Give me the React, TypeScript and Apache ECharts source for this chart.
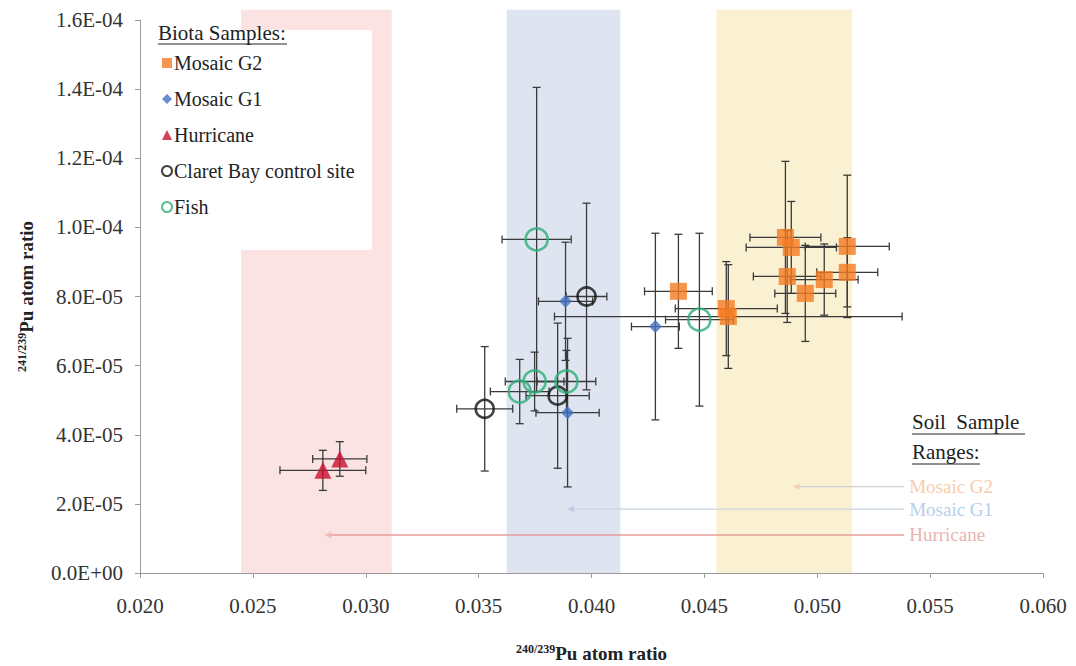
import React, { useEffect, useRef } from "react";
import * as echarts from "echarts";

// ---------- data ----------
const xTickMin = 0.02;
const xTickMax = 0.06;
const xTickStep = 0.005;
const yTickMin = 0;
const yTickMax = 1.6e-4;
const yTickStep = 2e-5;

// Mosaic G2 (orange squares)
const g2X = [0.04385, 0.04597, 0.04606, 0.04859, 0.04885, 0.04867, 0.04947, 0.05031, 0.05133, 0.05133];
const g2Y = [8.15e-5, 7.65e-5, 7.42e-5, 9.71e-5, 9.42e-5, 8.58e-5, 8.09e-5, 8.49e-5, 9.45e-5, 8.7e-5];
const g2XErr = [0.0015, 0.00226, 0.0077, 0.00157, 0.002, 0.0015, 0.00135, 0.0015, 0.00186, 0.00135];
const g2YErr = [1.65e-5, 1.36e-5, 1.5e-5, 2.2e-5, 1.33e-5, 1.33e-5, 1.39e-5, 1.03e-5, 2.06e-5, 1.0e-5];

// Mosaic G1 (blue diamonds)
const g1X = [0.03885, 0.03894, 0.04283];
const g1Y = [7.86e-5, 4.64e-5, 7.13e-5];
const g1XErr = [0.0012, 0.0014, 0.00106];
const g1YErr = [1.71e-5, 2.15e-5, 2.7e-5];

// Hurricane (red triangles)
const huX = [0.0281, 0.02885];
const huY = [2.97e-5, 3.3e-5];
const huXErr = [0.0019, 0.0012];
const huYErr = [0.58e-5, 0.5e-5];

// Claret Bay control site (black open circles)
const cbX = [0.03527, 0.0385, 0.03978];
const cbY = [4.75e-5, 5.13e-5, 8.0e-5];
const cbXErr = [0.00124, 0.0014, 0.0009];
const cbYErr = [1.8e-5, 2.1e-5, 2.7e-5];

// Fish (green open circles)
const fiX = [0.03757, 0.03682, 0.03748, 0.03889, 0.04478];
const fiY = [9.65e-5, 5.25e-5, 5.54e-5, 5.54e-5, 7.33e-5];
const fiXErr = [0.00153, 0.0013, 0.0013, 0.0013, 0.0015];
const fiYErr = [4.4e-5, 0.93e-5, 0.85e-5, 0.9e-5, 2.5e-5];

// Soil sample ranges (shaded bands)
const bandNames = ["Hurricane", "Mosaic G1", "Mosaic G2"];
const bandMin = [0.02447, 0.03624, 0.04553];
const bandMax = [0.03115, 0.04128, 0.05155];
const bandTop = 1.63e-4;

// Soil sample range pointers
const soilNames = ["Mosaic G2", "Mosaic G1", "Hurricane"];
const soilMeanX = [0.04907, 0.03907, 0.02832];
const soilLevelY = [2.5e-5, 1.85e-5, 1.1e-5];
const soilLabelX = 0.05385;

// ---------- styles ----------
const FONT = "Liberation Serif";
const bandColors = ["#FCE3E3", "#DEE5F1", "#FAF0D2"];
const soilLineColors = ["#cfcfcf", "#c9d3e0", "#e79d9b"];
const soilTextColors = ["#F5BE93", "#9FC1E6", "#E59E9C"];
const soilMarkColors = ["#f3cdb0", "#b7c7e0", "#efb5b3"];

const zip = (xs: number[], ys: number[]) => xs.map((x, i) => [x, ys[i]]);
const zip4 = (xs: number[], ys: number[], ex: number[], ey: number[]) =>
  xs.map((x, i) => [x, ys[i], ex[i], ey[i]]);

const yFmt = (v: number) => {
  if (Math.abs(v) < 1e-12) return "0.0E+00";
  const s = v.toExponential(1);
  const m = s.match(/^(-?[\d.]+)e([+-])(\d+)$/);
  if (!m) return s;
  const exp = m[3].length < 2 ? "0" + m[3] : m[3];
  return `${m[1]}E${m[2]}${exp}`;
};

export default function App() {
  const ref = useRef<HTMLDivElement>(null);

  useEffect(() => {
    if (!ref.current) return;
    const chart = echarts.init(ref.current, undefined, { renderer: "svg" });

    const errData = [
      ...zip4(g2X, g2Y, g2XErr, g2YErr),
      ...zip4(g1X, g1Y, g1XErr, g1YErr),
      ...zip4(huX, huY, huXErr, huYErr),
      ...zip4(cbX, cbY, cbXErr, cbYErr),
      ...zip4(fiX, fiY, fiXErr, fiYErr),
    ];

    const bandData = bandNames.map((n, i) => ({ name: n, value: [bandMin[i], bandMax[i], i] }));

    const option: any = {
      animation: false,
      backgroundColor: "#ffffff",
      textStyle: { fontFamily: FONT },
      grid: {
        left: 140,
        top: 20,
        width: 903,
        height: 553,
        containLabel: false,
        outerBoundsMode: "none",
      },
      xAxis: {
        type: "value",
        min: xTickMin,
        max: xTickMax,
        interval: xTickStep,
        name: "{sup|240/239}{b|Pu atom ratio}",
        nameLocation: "middle",
        nameGap: 70,
        nameTextStyle: {
          rich: {
            sup: { fontFamily: FONT, fontSize: 12, fontWeight: "bold", color: "#222", padding: [0, 0, 9, 0] },
            b: { fontFamily: FONT, fontSize: 19, fontWeight: "bold", color: "#222" },
          },
        },
        axisLine: { show: true, lineStyle: { color: "#9a9a9a", width: 1 } },
        axisTick: { show: true, length: 5, lineStyle: { color: "#9a9a9a" } },
        splitLine: { show: false },
        axisLabel: {
          formatter: (v: number) => v.toFixed(3),
          fontFamily: FONT,
          fontSize: 21,
          color: "#333",
          margin: 22,
        },
      },
      yAxis: {
        type: "value",
        min: yTickMin,
        max: yTickMax,
        interval: yTickStep,
        name: "{sup|241/239}{b|Pu atom ratio}",
        nameLocation: "middle",
        nameGap: 103,
        nameTextStyle: {
          rich: {
            sup: { fontFamily: FONT, fontSize: 12, fontWeight: "bold", color: "#222", padding: [0, 0, 9, 0] },
            b: { fontFamily: FONT, fontSize: 19, fontWeight: "bold", color: "#222" },
          },
        },
        axisLine: { show: true, lineStyle: { color: "#9a9a9a", width: 1 } },
        axisTick: { show: true, length: 5, lineStyle: { color: "#9a9a9a" } },
        splitLine: { show: false },
        axisLabel: {
          formatter: yFmt,
          fontFamily: FONT,
          fontSize: 21,
          color: "#333",
          margin: 17,
        },
      },
      legend: {
        data: ["Mosaic G2", "Mosaic G1", "Hurricane", "Claret Bay control site", "Fish"],
        orient: "vertical",
        left: 156,
        top: 48,
        itemGap: 16,
        itemWidth: 10,
        itemHeight: 10,
        z: 10,
        textStyle: { fontFamily: FONT, fontSize: 20, color: "#222", padding: [0, 0, 0, -3] },
      },
      graphic: [
        {
          type: "rect",
          z: 5,
          silent: true,
          shape: { x: 148, y: 30, width: 224, height: 220 },
          style: { fill: "#ffffff" },
        },
        {
          type: "text",
          z: 11,
          left: 158,
          top: 22,
          style: { text: "Biota Samples:", font: `21px ${FONT}`, fill: "#222" },
        },
        {
          type: "line",
          z: 11,
          shape: { x1: 158, y1: 44, x2: 287, y2: 44 },
          style: { stroke: "#222", lineWidth: 1 },
        },
        {
          type: "text",
          z: 11,
          left: 912,
          top: 411,
          style: { text: "Soil  Sample", font: `21px ${FONT}`, fill: "#222" },
        },
        {
          type: "line",
          z: 11,
          shape: { x1: 912, y1: 434, x2: 1025, y2: 434 },
          style: { stroke: "#222", lineWidth: 1 },
        },
        {
          type: "text",
          z: 11,
          left: 912,
          top: 441,
          style: { text: "Ranges:", font: `21px ${FONT}`, fill: "#222" },
        },
        {
          type: "line",
          z: 11,
          shape: { x1: 912, y1: 464, x2: 980, y2: 464 },
          style: { stroke: "#222", lineWidth: 1 },
        },
      ],
      series: [
        {
          type: "custom",
          name: "bands",
          z: 1,
          silent: true,
          clip: false,
          data: bandData,
          encode: { x: [0, 1] },
          renderItem: (params: any, api: any) => {
            const x0 = api.value(0);
            const x1 = api.value(1);
            const idx = api.value(2);
            const p0 = api.coord([x0, bandTop]);
            const p1 = api.coord([x1, 0]);
            return {
              type: "rect",
              shape: { x: p0[0], y: p0[1], width: p1[0] - p0[0], height: p1[1] - p0[1] },
              style: { fill: bandColors[idx] },
            };
          },
        },
        ...soilNames.map((n, i) => ({
          type: "line",
          name: "soil-" + n,
          z: 2,
          silent: true,
          symbol: "none",
          lineStyle: { color: soilLineColors[i], width: 1.3 },
          data: [
            [soilMeanX[i], soilLevelY[i]],
            [soilLabelX, soilLevelY[i]],
          ],
        })),
        {
          type: "scatter",
          name: "soil-marks",
          z: 2,
          silent: true,
          symbol: "triangle",
          symbolRotate: 90,
          symbolSize: 7,
          data: soilNames.map((n, i) => ({
            value: [soilMeanX[i], soilLevelY[i]],
            itemStyle: { color: soilMarkColors[i] },
          })),
        },
        {
          type: "scatter",
          name: "soil-labels",
          z: 3,
          silent: true,
          symbolSize: 0,
          data: soilNames.map((n, i) => ({
            value: [soilLabelX, soilLevelY[i]],
            label: {
              show: true,
              position: "right",
              distance: 5,
              formatter: n,
              fontFamily: FONT,
              fontSize: 19,
              color: soilTextColors[i],
            },
          })),
        },
        {
          type: "custom",
          name: "errors",
          z: 3,
          silent: true,
          data: errData,
          encode: { x: 0, y: 1 },
          renderItem: (params: any, api: any) => {
            const x = api.value(0);
            const y = api.value(1);
            const ex = api.value(2);
            const ey = api.value(3);
            const c = api.coord([x, y]);
            const l = api.coord([x - ex, y]);
            const r = api.coord([x + ex, y]);
            const t = api.coord([x, y + ey]);
            const b = api.coord([x, y - ey]);
            const cap = 4;
            const style = { stroke: "#3a3a3a", lineWidth: 1.3 };
            return {
              type: "group",
              children: [
                { type: "line", shape: { x1: l[0], y1: c[1], x2: r[0], y2: c[1] }, style },
                { type: "line", shape: { x1: l[0], y1: c[1] - cap, x2: l[0], y2: c[1] + cap }, style },
                { type: "line", shape: { x1: r[0], y1: c[1] - cap, x2: r[0], y2: c[1] + cap }, style },
                { type: "line", shape: { x1: c[0], y1: t[1], x2: c[0], y2: b[1] }, style },
                { type: "line", shape: { x1: c[0] - cap, y1: t[1], x2: c[0] + cap, y2: t[1] }, style },
                { type: "line", shape: { x1: c[0] - cap, y1: b[1], x2: c[0] + cap, y2: b[1] }, style },
              ],
            };
          },
        },
        {
          type: "scatter",
          name: "Mosaic G2",
          z: 4,
          symbol: "rect",
          symbolSize: 17,
          itemStyle: { color: "#F47B20" },
          data: zip(g2X, g2Y),
        },
        {
          type: "scatter",
          name: "Mosaic G1",
          z: 4,
          symbol: "diamond",
          symbolSize: 13,
          itemStyle: { color: "#4472C4" },
          data: zip(g1X, g1Y),
        },
        {
          type: "scatter",
          name: "Hurricane",
          z: 4,
          symbol: "triangle",
          symbolSize: 17,
          itemStyle: { color: "#C8102E" },
          data: zip(huX, huY),
        },
        {
          type: "scatter",
          name: "Claret Bay control site",
          z: 4,
          symbol: "circle",
          symbolSize: 18,
          itemStyle: { color: "rgba(255,255,255,0)", borderColor: "#111111", borderWidth: 2.6 },
          data: zip(cbX, cbY),
        },
        {
          type: "scatter",
          name: "Fish",
          z: 4,
          symbol: "circle",
          symbolSize: 22,
          itemStyle: { color: "rgba(255,255,255,0)", borderColor: "#2FAE78", borderWidth: 2.6 },
          data: zip(fiX, fiY),
        },
      ],
    };

    chart.setOption(option);
    return () => chart.dispose();
  }, []);

  return (
    <div
      ref={ref}
      style={{ position: "absolute", left: 0, top: 0, width: 1076, height: 666, background: "#fff" }}
    />
  );
}
